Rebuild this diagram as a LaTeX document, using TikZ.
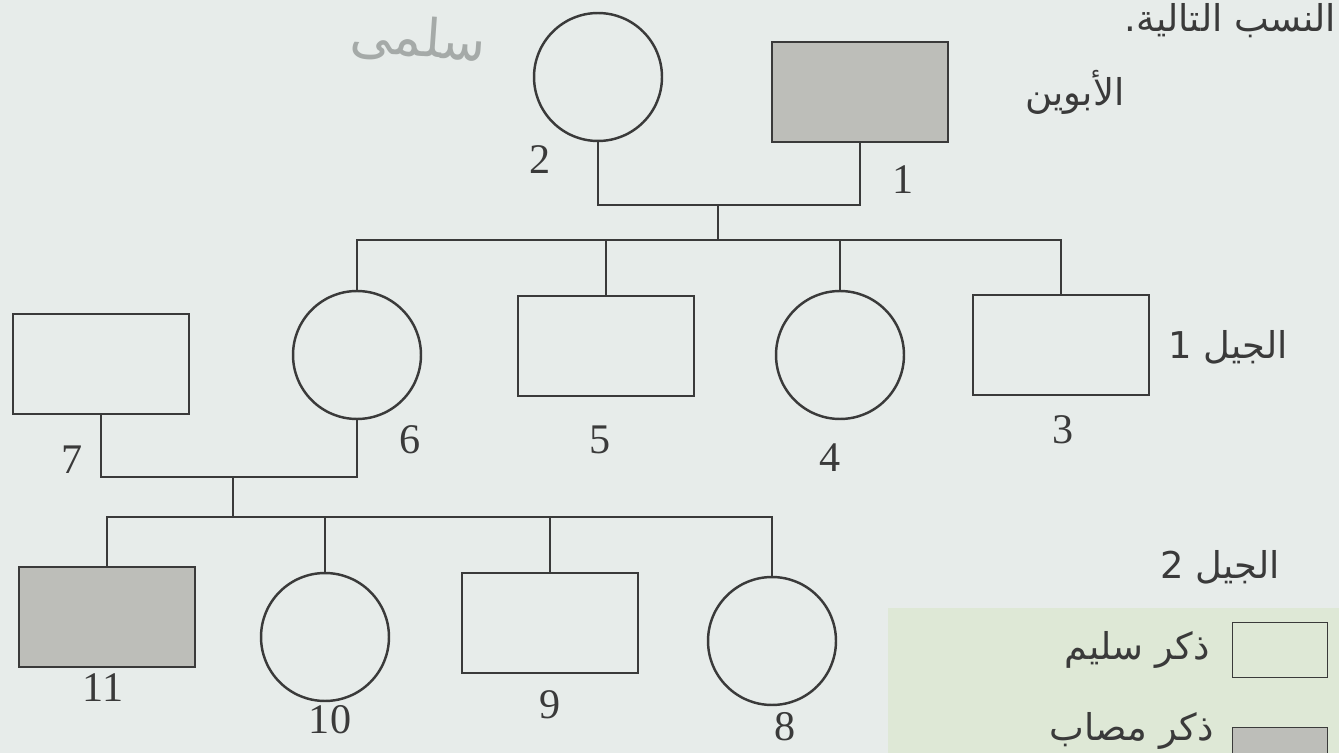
\documentclass[tikz,border=0pt]{standalone}
\usepackage{fontspec}
\setmainfont{Liberation Serif}
\newfontfamily\arabicfont[Script=Arabic]{DejaVu Sans}
\TeXXeTstate=1
\usepackage{tikz}
\usetikzlibrary{positioning,calc}
\definecolor{paper}{HTML}{E7ECEA}
\definecolor{keypaper}{HTML}{DEE8D6}
\definecolor{ink}{HTML}{3A3A3A}
\definecolor{affected}{HTML}{BDBEB9}
\definecolor{pencil}{HTML}{A5AAA8}

\begin{document}
\begin{tikzpicture}[x=0.02cm,y=-0.02cm,line width=1.4pt,
  male/.style={draw=ink,minimum width=3.52cm,minimum height=2cm,inner sep=0pt},
  female/.style={draw=ink,circle,minimum size=2.56cm,inner sep=0pt},
  ill/.style={fill=affected},
  num/.style={font=\fontsize{24}{26}\selectfont,text=ink},
  ar/.style={font=\fontsize{21}{24}\selectfont\arabicfont,text=ink}]
\useasboundingbox (0,0) rectangle (1339,753);
\fill[paper] (0,0) rectangle (1339,753);
\fill[keypaper] (888,608) rectangle (1339,753);

% parents
\node[female] (p2) at (598,77) {};
\node[male,ill] (p1) at (860,92) {};
\node[num] (n2) at (540,160) {2};
\node[num] (n1) at (903,180) {1};
\node[ar] (gen0) at (1075,92) {\beginR الأبوين\endR};

% generation 1
\node[female] (g6) at (357,355) {};
\node[male] (g5) at (606,346) {};
\node[female] (g4) at (840,355) {};
\node[male] (g3) at (1061,345) {};
\node[male] (g7) at (101,364) {};
\node[num] (n6) at (410,440) {6};
\node[num] (n5) at (600,440) {5};
\node[num] (n4) at (830,458) {4};
\node[num] (n3) at (1063,430) {3};
\node[num] (n7) at (72,460) {7};
\node[ar] (gen1) at (1228,347) {\beginR الجيل 1\endR};

% generation 2
\node[male,ill] (g11) at (107,617) {};
\node[female] (g10) at (325,637) {};
\node[male] (g9) at (550,623) {};
\node[female] (g8) at (772,641) {};
\node[num] (n11) at (103,688) {11};
\node[num] (n10) at (330,720) {10};
\node[num] (n9) at (550,705) {9};
\node[num] (n8) at (785,727) {8};
\node[ar] (gen2) at (1220,567) {\beginR الجيل 2\endR};

% lines
\coordinate (c0) at (718,205);
\coordinate (s1) at (718,240);
\draw[ink] (p2.south) |- (c0) -| (p1.south);
\draw[ink] (c0) -- (s1);
\draw[ink] (g6.north) |- (s1) -| (g3.north);
\foreach \k in {g5,g4} \draw[ink] (\k.north) -- (\k.north |- s1);
\coordinate (c1) at (233,477);
\coordinate (s2) at (233,517);
\draw[ink] (g7.south) |- (c1) -| (g6.south);
\draw[ink] (c1) -- (s2);
\draw[ink] (g11.north) |- (s2) -| (g8.north);
\foreach \k in {g10,g9} \draw[ink] (\k.north) -- (\k.north |- s2);

% key
\node[draw=ink,line width=1pt,minimum width=1.9cm,minimum height=1.1cm,inner sep=0pt] (keyok) at (1280,650) {};
\node[draw=ink,line width=1pt,fill=affected,minimum width=1.9cm,minimum height=1.1cm,inner sep=0pt] (keyill) at (1280,755) {};
\node[ar,left=0.3cm of keyok] (tok) {\beginR ذكر سليم\endR};
\node[ar,anchor=south east,inner sep=1pt] (till) at ([xshift=-0.3cm,yshift=0.06cm]keyill.west) {\beginR ذكر مصاب\endR};

% page bits
\node[ar,anchor=north east,inner sep=1pt] (head) at (1339,0) {\beginR النسب التالية.\endR};
\node[font=\fontsize{30}{32}\selectfont\arabicfont,text=pencil,rotate=-4] (pen) at (418,40) {\beginR سلمى\endR};
\end{tikzpicture}
\end{document}
